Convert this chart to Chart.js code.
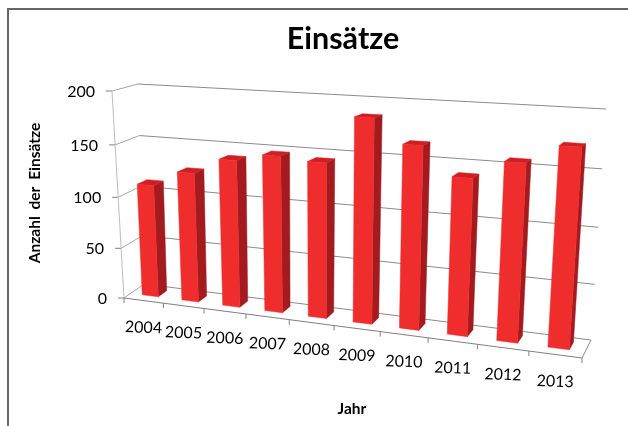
<!DOCTYPE html>
<html>
<head>
<meta charset="utf-8">
<title>Einsätze</title>
<script src="https://cdn.jsdelivr.net/npm/chart.js@4/dist/chart.umd.js"></script>
<style>
    body { margin: 0; background: #fff; }
    canvas { display: block; }
</style>
</head>
<body>
<canvas id="myChart" width="628" height="426"></canvas>
<script>
var categories = ['2004', '2005', '2006', '2007', '2008', '2009', '2010', '2011', '2012', '2013'];
var einsaetze = [110, 125, 140, 147, 144, 186, 165, 140, 156, 172];
var yTicks = [0, 50, 100, 150, 200];

var chartTitle = 'Einsätze';
var yTitle = 'Anzahl der Einsätze';
var xTitle = 'Jahr';

// corners of the 3d box in the photo: bottom left, bottom right, top right, top left
var frontWall = [[124, 298], [582, 358], [598, 115], [112, 91]];
var backWall = [[144, 284], [591, 340], [606, 109], [138, 84]];
var barDepth = [0.34, 0.76];

function homography(q) {
    var dx1 = q[1][0] - q[2][0], dx2 = q[3][0] - q[2][0], sx = q[0][0] - q[1][0] + q[2][0] - q[3][0];
    var dy1 = q[1][1] - q[2][1], dy2 = q[3][1] - q[2][1], sy = q[0][1] - q[1][1] + q[2][1] - q[3][1];
    var det = dx1 * dy2 - dx2 * dy1;
    var g = (sx * dy2 - dx2 * sy) / det;
    var h = (dx1 * sy - sx * dy1) / det;
    var a = q[1][0] - q[0][0] + g * q[1][0], b = q[3][0] - q[0][0] + h * q[3][0];
    var d = q[1][1] - q[0][1] + g * q[1][1], e = q[3][1] - q[0][1] + h * q[3][1];
    return function (u, v) {
        var n = g * u + h * v + 1;
        return [(a * u + b * v + q[0][0]) / n, (d * u + e * v + q[0][1]) / n];
    };
}
var frontMap = homography(frontWall);
var backMap = homography(backWall);

// u along the years, v up the value axis, w from front to back
function project(u, v, w) {
    var f = frontMap(u, v), b = backMap(u, v);
    return [f[0] + (b[0] - f[0]) * w, f[1] + (b[1] - f[1]) * w];
}

function face(ctx, pts, color) {
    ctx.fillStyle = color;
    ctx.strokeStyle = color;
    ctx.lineWidth = 0.5;
    ctx.beginPath();
    pts.forEach(function (p, i) {
        if (i === 0) ctx.moveTo(p[0], p[1]); else ctx.lineTo(p[0], p[1]);
    });
    ctx.closePath();
    ctx.fill();
    ctx.stroke();
}

function line(ctx, a, b, color) {
    ctx.strokeStyle = color;
    ctx.lineWidth = 1;
    ctx.beginPath();
    ctx.moveTo(a[0], a[1]);
    ctx.lineTo(b[0], b[1]);
    ctx.stroke();
}

var plotArea = null;

class Bar3D extends Chart.BarElement {
    draw(ctx) {
        var a = plotArea;
        var p = this.getProps(['x', 'y', 'base', 'width']);
        var u0 = (p.x - p.width / 2 - a.left) / a.width;
        var u1 = (p.x + p.width / 2 - a.left) / a.width;
        var v0 = (a.bottom - p.base) / a.height;
        var v1 = (a.bottom - p.y) / a.height;
        var w0 = barDepth[0], w1 = barDepth[1];
        ctx.save();
        face(ctx, [project(u1, v0, w0), project(u1, v0, w1), project(u1, v1, w1), project(u1, v1, w0)], '#a31b1f');
        face(ctx, [project(u0, v1, w0), project(u1, v1, w0), project(u1, v1, w1), project(u0, v1, w1)], '#d01f24');
        face(ctx, [project(u0, v0, w0), project(u1, v0, w0), project(u1, v1, w0), project(u0, v1, w0)], '#ef2d2d');
        ctx.restore();
    }
}
Bar3D.id = 'bar3d';
Bar3D.defaults = {};

class Bar3DController extends Chart.BarController {}
Bar3DController.id = 'bar3dChart';
Bar3DController.defaults = { dataElementType: 'bar3d' };

Chart.register(Bar3D, Bar3DController);

var boxPlugin = {
    id: 'box3d',
    beforeDraw: function (chart) {
        var ctx = chart.ctx;
        ctx.fillStyle = '#fff';
        ctx.fillRect(0, 0, chart.width, chart.height);
        ctx.fillStyle = '#666';
        ctx.fillRect(7, 8, chart.width - 7, 2);
        ctx.fillRect(7, 8, 2, chart.height - 8);
    },
    beforeDatasetsDraw: function (chart) {
        var ctx = chart.ctx, a = chart.chartArea;
        var y = chart.scales.y, n = categories.length;
        plotArea = a;
        ctx.save();

        // walls
        y.ticks.forEach(function (t) {
            var v = (a.bottom - y.getPixelForValue(t.value)) / a.height;
            line(ctx, project(0, v, 0), project(0, v, 1), '#a6a6a6');
            line(ctx, project(0, v, 1), project(1, v, 1), '#8c8c8c');
            var f = project(0, v, 0);
            line(ctx, [f[0] - 6, f[1]], f, '#808080');
            ctx.fillStyle = '#000';
            ctx.font = '16px Lato';
            ctx.textAlign = 'right';
            ctx.textBaseline = 'middle';
            ctx.fillText(t.label, f[0] - 17, f[1] + 1);
        });
        line(ctx, project(0, 0, 0), project(0, 1, 0), '#bdbdbd');
        line(ctx, project(1, 0, 0), project(1, 0, 1), '#8c8c8c');

        // floor front edge with its ticks
        line(ctx, project(0, 0, 0), project(1, 0, 0), '#808080');
        for (var i = 0; i <= n; i++) {
            var e = project(i / n, 0, 0);
            line(ctx, e, [e[0], e[1] + 5], '#808080');
        }
        categories.forEach(function (c, i) {
            var m = project((i + 0.5) / n, 0, 0);
            ctx.save();
            ctx.translate(m[0], m[1] + 27);
            ctx.rotate(2 * Math.PI / 180);
            ctx.fillStyle = '#000';
            ctx.font = '16px Lato';
            ctx.textAlign = 'center';
            ctx.textBaseline = 'middle';
            ctx.fillText(c, 0, 0);
            ctx.restore();
        });

        // axis titles
        ctx.fillStyle = '#000';
        ctx.font = 'bold 15.5px Lato';
        ctx.textAlign = 'center';
        ctx.textBaseline = 'middle';
        ctx.fillText(xTitle, 352, 409);
        ctx.wordSpacing = '3px';
        ctx.translate(35, 193);
        ctx.rotate(-Math.PI / 2);
        ctx.fillText(yTitle, 0, 0);
        ctx.wordSpacing = '0px';
        ctx.restore();
    }
};

var ctx = document.getElementById('myChart').getContext('2d');
var myChart = new Chart(ctx, {
    type: 'bar3dChart',
    data: {
        labels: categories,
        datasets: [{
            label: chartTitle,
            data: einsaetze,
            backgroundColor: '#ef2d2d',
            barPercentage: 0.41,
            categoryPercentage: 1
        }]
    },
    options: {
        responsive: false,
        animation: false,
        layout: { padding: { left: 100, right: 42, top: 0, bottom: 20 } },
        plugins: {
            legend: { display: false },
            tooltip: { enabled: false },
            title: {
                display: true,
                text: chartTitle,
                color: '#000',
                fullSize: false,
                font: { family: 'Lato', size: 30.5, weight: 'bold' },
                padding: { top: 21, bottom: 10 }
            }
        },
        scales: {
            x: { type: 'category', offset: true, display: false },
            y: {
                type: 'linear',
                display: false,
                min: yTicks[0],
                max: yTicks[yTicks.length - 1],
                ticks: { stepSize: 50 }
            }
        }
    },
    plugins: [boxPlugin]
});
</script>
</body>
</html>
